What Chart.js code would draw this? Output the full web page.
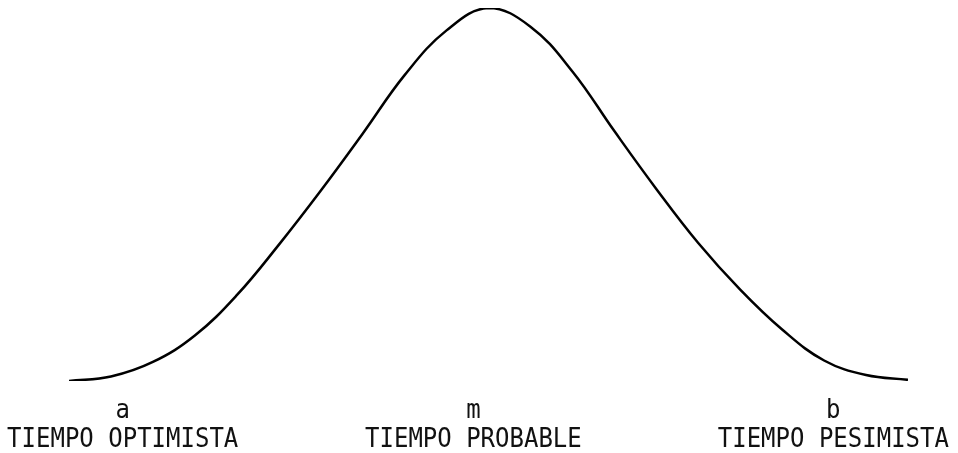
<!DOCTYPE html>
<html>
<head>
<meta charset="utf-8">
<script src="https://cdn.jsdelivr.net/npm/chart.js@4/dist/chart.umd.min.js"></script>
<style>
  html, body { margin: 0; padding: 0; background: #fff; }
  #wrap { width: 958px; height: 453px; position: relative; }
</style>
</head>
<body>
<div id="wrap"><canvas id="curva"></canvas></div>
<script>
// Curva de distribución del tiempo (escala relativa 0-100)
const tiempo = [0, 5, 10, 15, 20, 25, 30, 35, 40, 45, 50,
                55, 60, 65, 70, 75, 80, 85, 90, 95, 100];
const densidad = [0, 1.2, 5.1, 12.2, 23.0, 36.5, 51.0, 66.3, 82.0, 94.0, 100,
                  95.0, 83.0, 67.0, 51.5, 37.0, 24.5, 13.8, 5.5, 1.6, 0.3];

// Marcas bajo la curva
const letras = ['a', 'm', 'b'];
const nombres = ['TIEMPO OPTIMISTA', 'TIEMPO PROBABLE', 'TIEMPO PESIMISTA'];
const posMarcas = [6.4, 48.2, 91.1];

const puntos = tiempo.map((t, i) => ({ x: t, y: densidad[i] }));

// dibuja las letras y los nombres debajo de la curva
const etiquetasPlugin = {
    id: 'etiquetas',
    afterDraw(chart) {
        const ctx = chart.ctx;
        const xs = chart.scales.x;
        const base = chart.chartArea.bottom;
        ctx.save();
        ctx.fillStyle = '#111';
        ctx.textAlign = 'center';
        ctx.textBaseline = 'alphabetic';
        ctx.font = '24px "DejaVu Sans Mono", monospace';
        posMarcas.forEach((t, i) => {
            const x = xs.getPixelForValue(t);
            ctx.save();
            ctx.translate(x, base + 37);
            ctx.scale(1, 1.1);
            ctx.fillText(letras[i], 0, 0);
            ctx.restore();
            ctx.save();
            ctx.translate(x, base + 66);
            ctx.scale(1, 1.14);
            ctx.fillText(nombres[i], 0, 0);
            ctx.restore();
        });
        ctx.restore();
    }
};

new Chart(document.getElementById('curva'), {
    type: 'scatter',
    data: {
        datasets: [{
            data: puntos,
            showLine: true,
            borderColor: '#000',
            borderWidth: 2.5,
            pointRadius: 0,
            tension: 0.4,
            fill: false
        }]
    },
    options: {
        responsive: true,
        maintainAspectRatio: false,
        animation: false,
        layout: { padding: { left: 69, right: 50, top: 8, bottom: 72 } },
        plugins: {
            legend: { display: false },
            tooltip: { enabled: false }
        },
        scales: {
            x: { type: 'linear', min: 0, max: 100, display: false },
            y: { min: 0, max: 100, display: false }
        }
    },
    plugins: [etiquetasPlugin]
});
</script>
</body>
</html>
